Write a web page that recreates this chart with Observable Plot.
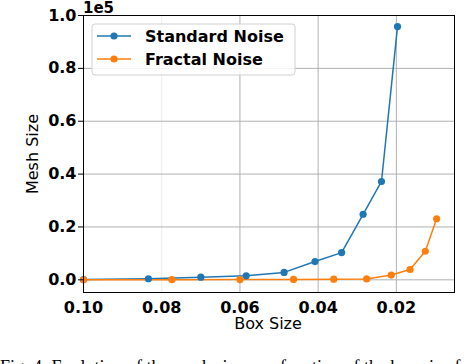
<!DOCTYPE html>
<html>
<head>
<meta charset="utf-8">
<script src="https://cdn.jsdelivr.net/npm/d3@7"></script>
<script src="https://cdn.jsdelivr.net/npm/@observablehq/plot@0.6"></script>
<style>
  html, body { margin: 0; padding: 0; background: white; overflow: hidden; }
  #chart svg { overflow: visible; }
</style>
</head>
<body>
<div id="chart"></div>
<script>
// Box size (x) and mesh size (y) for each series
const boxStd  = [0.1, 0.0834, 0.070, 0.0584, 0.0487, 0.0408, 0.034, 0.0285, 0.0238, 0.0197];
const meshStd = [100, 400, 1000, 1500, 2800, 6900, 10300, 24800, 37200, 95800];
const boxFrac  = [0.1, 0.0774, 0.06, 0.0463, 0.036, 0.0276, 0.0213, 0.0165, 0.0126, 0.0097];
const meshFrac = [0, 50, 100, 150, 250, 350, 1800, 3900, 10800, 23100];
const seriesNames = ["Standard Noise", "Fractal Noise"];
const seriesColors = ["#1f77b4", "#ff7f0e"];
const xTicks = [0.10, 0.08, 0.06, 0.04, 0.02];
const yTicks = [0, 20000, 40000, 60000, 80000, 100000];
const caption = "Fig. 4: Evolution of the mesh size as a function of the box size for both noise types.";

const data = [
  ...boxStd.map((b, i) => ({box: b, mesh: meshStd[i], series: seriesNames[0]})),
  ...boxFrac.map((b, i) => ({box: b, mesh: meshFrac[i], series: seriesNames[1]}))
];

const font = "DejaVu Sans";
const plot = Plot.plot({
  width: 464,
  height: 364,
  marginLeft: 83,
  marginRight: 10,
  marginTop: 15,
  marginBottom: 72,
  style: {fontFamily: font, fontSize: "16px", color: "black", background: "white", overflow: "visible"},
  x: {domain: [0.1, 0.00513], ticks: xTicks},
  y: {domain: [-4800, 100000], ticks: yTicks},
  color: {domain: seriesNames, range: seriesColors},
  marks: [
    Plot.gridX(xTicks.filter(t => t !== 0.08 && t !== 0.1), {stroke: "#b0b0b0", strokeOpacity: 1, strokeWidth: 1}),
    Plot.gridX([0.08], {stroke: "#ececec", strokeOpacity: 1, strokeWidth: 1}),
    Plot.gridY(yTicks, {stroke: "#b0b0b0", strokeOpacity: 1, strokeWidth: 1}),
    Plot.line(data, {x: "box", y: "mesh", z: "series", stroke: "series", strokeWidth: 1.5}),
    Plot.dot(data, {x: "box", y: "mesh", fill: "series", r: 3.6}),
    Plot.frame({stroke: "black", strokeWidth: 1}),
    Plot.axisX(xTicks, {tickSize: 0, tickPadding: 9, tickFormat: d => d.toFixed(2), fontWeight: "bold", fontSize: 16, label: null}),
    Plot.axisY(yTicks, {tickSize: 5, tickPadding: 2, tickFormat: d => (d / 1e5).toFixed(1), fontWeight: "bold", fontSize: 16, label: null})
  ]
});
document.getElementById("chart").appendChild(plot);

const svg = d3.select(plot);
// exponent label
svg.append("text").attr("x", 83).attr("y", 12.5).attr("text-anchor", "start")
  .attr("font-family", font).attr("font-weight", "bold").attr("font-size", 15).attr("fill", "black")
  .text("1e5");
// axis labels
svg.append("text").attr("x", 268).attr("y", 329).attr("text-anchor", "middle")
  .attr("font-family", font).attr("font-size", 16).attr("fill", "black").text("Box Size");
svg.append("text").attr("transform", "translate(38,154) rotate(-90)").attr("text-anchor", "middle")
  .attr("font-family", font).attr("font-size", 16).attr("fill", "black").text("Mesh Size");

// legend
const lg = svg.append("g");
lg.append("rect").attr("x", 92).attr("y", 24).attr("width", 203).attr("height", 51).attr("rx", 3)
  .attr("fill", "white").attr("fill-opacity", 0.85).attr("stroke", "#d0d0d0").attr("stroke-width", 1);
seriesNames.forEach((name, i) => {
  const yy = 36 + i * 23;
  lg.append("line").attr("x1", 97).attr("x2", 131).attr("y1", yy).attr("y2", yy)
    .attr("stroke", seriesColors[i]).attr("stroke-width", 1.5);
  lg.append("circle").attr("cx", 114).attr("cy", yy).attr("r", 3.6).attr("fill", seriesColors[i]);
  lg.append("text").attr("x", 145).attr("y", yy).attr("dy", "0.35em").attr("text-anchor", "start")
    .attr("font-family", font).attr("font-weight", "bold").attr("font-size", 16).attr("fill", "black")
    .text(name);
});

// partially visible caption
svg.append("text").attr("x", 0).attr("y", 373).attr("text-anchor", "start")
  .attr("font-family", "Liberation Serif").attr("font-size", 18).attr("fill", "black")
  .text(caption);
</script>
</body>
</html>
